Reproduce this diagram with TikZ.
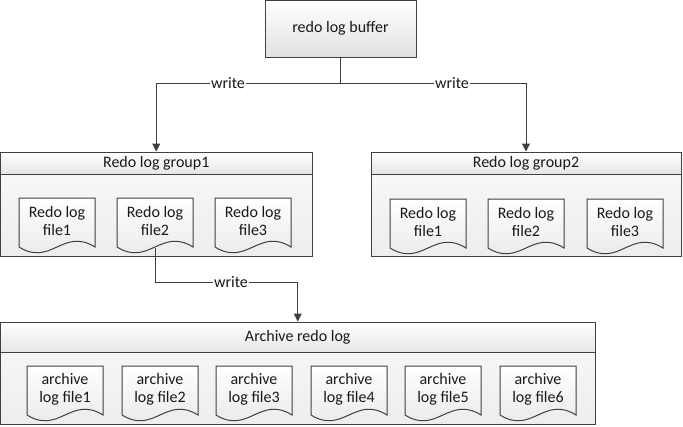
\documentclass[tikz,border=0pt]{standalone}
\usepackage{fontspec}
\setmainfont{Carlito}
\usetikzlibrary{fit,arrows.meta}
\definecolor{ln}{HTML}{404040}
\tikzset{
 every node/.style={font=\fontsize{12}{13.5}\selectfont, text=black!90},
 boxline/.style={draw=ln, line width=0.75pt},
 bufbox/.style={boxline, top color=white, bottom color=black!12, inner sep=0pt},
 groupbox/.style={boxline, top color=black!2, bottom color=black!7, inner sep=0pt},
 headbox/.style={boxline, top color=white, bottom color=black!10, inner sep=0pt},
 docline/.style={boxline, top color=white, bottom color=black!10},
 filetext/.style={align=center, inner sep=0pt},
 conn/.style={draw=ln, line width=0.75pt},
 arr/.style={conn, -{Triangle[width=6pt,length=6pt]}},
 lbl/.style={fill=white, inner sep=1pt},
}
\newcommand\docnode[4]{%
 \path[docline] (#2,#3) -- (#2+76,#3) -- (#2+76,#3+49) .. controls (#2+44,#3+29) and (#2+32,#3+69) .. (#2,#3+49) -- cycle;
 \node[filetext] (#1) at (#2+38,#3+23) {#4};
 \coordinate (#1-b) at (#2+38,#3+50);
}
\begin{document}
\begin{tikzpicture}[x=0.75pt,y=-0.75pt]
\useasboundingbox (0,0) rectangle (683,426);
% buffer
\node[bufbox, fit={(265,0.5) (416,57)}] (buf) {};
\node (buft) at (buf.center) {redo log buffer};
% group 1
\node[groupbox, fit={(0.5,152) (312,256)}] (g1) {};
\node[headbox, fit={(0.5,152) (312,174)}] (g1h) {};
\node (g1t) at (g1h.center) {Redo log group1};
\docnode{g1f1}{19}{198}{Redo log\\file1}
\docnode{g1f2}{117}{198}{Redo log\\file2}
\docnode{g1f3}{215}{198}{Redo log\\file3}
% group 2
\node[groupbox, fit={(371,152) (681,256)}] (g2) {};
\node[headbox, fit={(371,152) (681,174)}] (g2h) {};
\node (g2t) at (g2h.center) {Redo log group2};
\docnode{g2f1}{390}{199}{Redo log\\file1}
\docnode{g2f2}{488}{199}{Redo log\\file2}
\docnode{g2f3}{587}{199}{Redo log\\file3}
% archive
\node[groupbox, fit={(0.5,322) (595,424)}] (ar) {};
\node[headbox, fit={(0.5,322) (595,352)}] (arh) {};
\node (art) at (arh.center) {Archive redo log};
\docnode{a1}{27}{366}{archive\\log file1}
\docnode{a2}{122}{366}{archive\\log file2}
\docnode{a3}{216}{366}{archive\\log file3}
\docnode{a4}{311}{366}{archive\\log file4}
\docnode{a5}{405}{366}{archive\\log file5}
\docnode{a6}{500}{366}{archive\\log file6}
% connectors
\coordinate (j1) at (buf.south |- 0,83);
\coordinate (j2) at (g1f2-b |- 0,282);
\draw[conn] (buf.south) -- (j1);
\draw[arr] (j1) -| (g1.north);
\draw[arr] (j1) -| (g2.north);
\draw[arr] (g1f2-b) -- (j2) -| (ar.north);
\node[lbl] (w1) at (228,83) {write};
\node[lbl] (w2) at (452,83) {write};
\node[lbl] (w3) at (231,282) {write};
\end{tikzpicture}
\end{document}
